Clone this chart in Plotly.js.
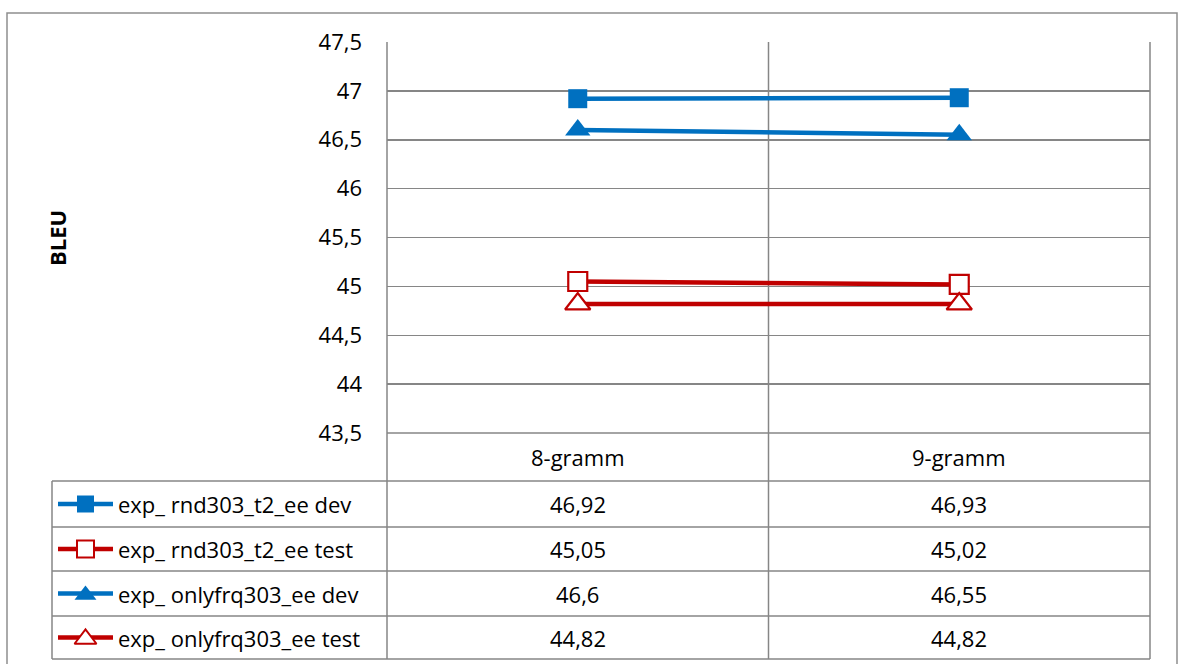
<!DOCTYPE html>
<html>
<head>
<meta charset="utf-8">
<script src="https://cdn.plot.ly/plotly-3.0.1.min.js"></script>
<style>html,body{margin:0;padding:0;background:#fff;}#chart{width:1178px;height:664px;}</style>
</head>
<body>
<div id="chart"></div>
<script>
// ---- data ----
const categories = ['8-gramm', '9-gramm'];
const seriesNames = ['exp_ rnd303_t2_ee dev', 'exp_ rnd303_t2_ee test', 'exp_ onlyfrq303_ee dev', 'exp_ onlyfrq303_ee test'];
const rndDev = [46.92, 46.93];
const rndTest = [45.05, 45.02];
const frqDev = [46.6, 46.55];
const frqTest = [44.82, 44.82];
const yTitle = 'BLEU';

// ---- styles ----
const W = 1178, H = 664;
const BLUE = '#0070C0', RED = '#C00000', GRID = '#868686';
const FONT = 'Open Sans, sans-serif';
const FS = 22;
const seriesValues = [rndDev, rndTest, frqDev, frqTest];
const seriesStyle = [
  {color: BLUE, symbol: 'square', fill: BLUE},
  {color: RED, symbol: 'square', fill: '#ffffff'},
  {color: BLUE, symbol: 'triangle-up', fill: BLUE},
  {color: RED, symbol: 'triangle-up', fill: '#ffffff'}
];

const px = x => x / W;
const py = y => 1 - y / H;
const PL = 387, PR = 1150, PT = 42, PB = 433;
const TL = 52, TB = 659;
const rowTops = [433, 481, 527, 571, 616, 659];

const traces = [];
seriesValues.forEach((vals, i) => {
  const s = seriesStyle[i];
  const tri = s.symbol !== 'square';
  traces.push({
    type: 'scatter', mode: 'lines+markers', x: categories, y: vals, name: seriesNames[i],
    line: {color: s.color, width: 4.5},
    marker: {symbol: s.symbol, size: tri ? 22 : 19, color: s.fill,
             line: {color: s.color, width: s.fill === '#ffffff' ? 2.2 : 0}},
    cliponaxis: false, showlegend: false
  });
});
// legend keys in table (overlay pixel axes)
seriesValues.forEach((vals, i) => {
  const s = seriesStyle[i];
  const tri = s.symbol !== 'square';
  const cy = (rowTops[i + 1] + rowTops[i + 2]) / 2;
  traces.push({
    type: 'scatter', mode: 'lines', x: [58, 113], y: [cy, cy], xaxis: 'x2', yaxis: 'y2',
    line: {color: s.color, width: 4.5}, showlegend: false, hoverinfo: 'skip'
  });
  traces.push({
    type: 'scatter', mode: 'markers', x: [85.5], y: [cy + (tri ? 1.5 : 0)], xaxis: 'x2', yaxis: 'y2',
    marker: {symbol: s.symbol, size: tri ? 19 : 17, color: s.fill,
             line: {color: s.color, width: s.fill === '#ffffff' ? 2 : 0}},
    showlegend: false, hoverinfo: 'skip'
  });
});

const shapes = [];
const line = (x0, y0, x1, y1, c, w) => shapes.push({type: 'line', xref: 'paper', yref: 'paper',
  x0: px(x0), y0: py(y0), x1: px(x1), y1: py(y1), line: {color: c || GRID, width: w || 1.5}, layer: 'below'});
// outer border
shapes.push({type: 'rect', xref: 'paper', yref: 'paper', x0: px(7), y0: py(700), x1: px(1177), y1: py(13),
  line: {color: '#8e8e8e', width: 1.5}, layer: 'below'});
// vertical lines
[PL, (PL + PR) / 2, PR].forEach(x => line(x, PT, x, TB));
line(TL, rowTops[1], TL, TB);
// table horizontal lines
rowTops.forEach((y, i) => line(i === 0 ? PL : TL, y, PR, y));

const annotations = [];
annotations.push({xref: 'paper', yref: 'paper', x: px(57), y: py(238), text: '<b>' + yTitle + '</b>',
  textangle: -90, showarrow: false, font: {family: FONT, size: FS, color: '#000'}, xanchor: 'center', yanchor: 'middle'});
categories.forEach((c, j) => {
  annotations.push({xref: 'x', yref: 'paper', x: c, y: py((rowTops[0] + rowTops[1]) / 2), text: c,
    showarrow: false, font: {family: FONT, size: FS, color: '#000'}, xanchor: 'center', yanchor: 'middle'});
});
seriesValues.forEach((vals, i) => {
  const cy = (rowTops[i + 1] + rowTops[i + 2]) / 2;
  annotations.push({xref: 'paper', yref: 'paper', x: px(116), y: py(cy), text: seriesNames[i],
    showarrow: false, font: {family: FONT, size: FS, color: '#000'}, xanchor: 'left', yanchor: 'middle'});
  vals.forEach((v, j) => {
    annotations.push({xref: 'x', yref: 'paper', x: categories[j], y: py(cy), text: String(v).replace('.', ','),
      showarrow: false, font: {family: FONT, size: FS, color: '#000'}, xanchor: 'center', yanchor: 'middle'});
  });
});

const layout = {
  width: W, height: H, margin: {l: 0, r: 0, t: 0, b: 0},
  paper_bgcolor: '#fff', plot_bgcolor: 'rgba(0,0,0,0)',
  separators: ', ',
  showlegend: false,
  xaxis: {domain: [px(PL), px(PR)], type: 'category', range: [-0.5, 1.5], showgrid: false, zeroline: false,
          showticklabels: false, showline: false, ticks: ''},
  yaxis: {domain: [py(PB), py(PT)], range: [43.5, 47.5], dtick: 0.5, tick0: 43.5, showgrid: true,
          gridcolor: GRID, gridwidth: 1.5, zeroline: false, showline: false, ticks: '',
          ticklabelstandoff: 24, tickfont: {family: FONT, size: FS, color: '#000'}},
  xaxis2: {domain: [0, 1], range: [0, W], visible: false, fixedrange: true, anchor: 'y2'},
  yaxis2: {domain: [0, 1], range: [H, 0], visible: false, fixedrange: true, anchor: 'x2'},
  shapes: shapes, annotations: annotations
};

Plotly.newPlot('chart', traces, layout, {displayModeBar: false, staticPlot: true});
</script>
</body>
</html>
